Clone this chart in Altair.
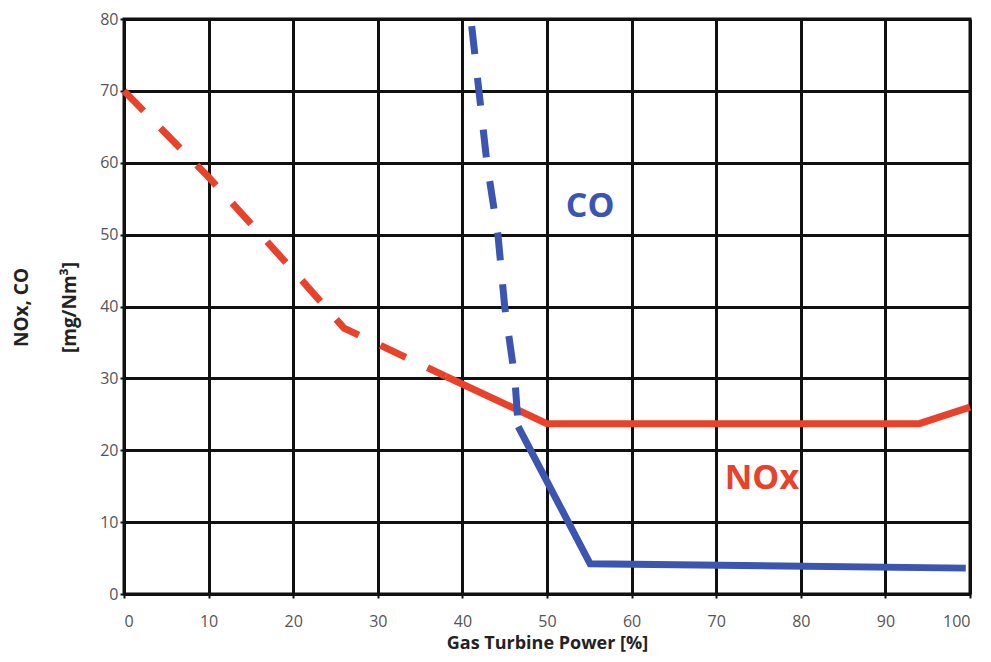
import altair as alt
import pandas as pd

# NOx curve (dashed part at low load, solid part at higher load)
nox_dash_x = [0, 10, 20, 26, 38]
nox_dash_y = [70, 58, 45, 37, 30.3]
nox_solid_x = [38, 50, 94, 100]
nox_solid_y = [30.3, 23.7, 23.7, 26.0]

# CO curve
co_dash_x = [41.1, 42.9, 44.2, 45.0, 46.2, 46.6]
co_dash_y = [79, 60, 50, 40, 30, 23.3]
co_solid_x = [46.6, 55.1, 99.5]
co_solid_y = [23.3, 4.2, 3.6]

label_text = ["CO", "NOx"]
label_x = [55.1, 75.4]
label_y = [53.8, 16.0]

x_ticks = list(range(0, 101, 10))
y_ticks = list(range(0, 81, 10))

RED = "#e8422b"
BLUE = "#3b55b0"

x_scale = alt.Scale(domain=[0, 100], nice=False, zero=False)
y_scale = alt.Scale(domain=[0, 80], nice=False)

x_axis = alt.Axis(
    values=x_ticks, title="Gas Turbine Power [%]", grid=True,
    gridColor="#111111", gridWidth=3, gridOpacity=1,
    domainColor="#111111", domainWidth=3,
    tickColor="#111111", tickSize=4, tickWidth=2,
    labelFont="Open Sans", labelFontSize=16, labelColor="#555555",
    labelPadding=15,
    titleFont="Open Sans", titleFontSize=18, titleFontWeight="bold",
    titleColor="#222222", titlePadding=5,
)
y_axis = alt.Axis(
    values=y_ticks, title=["NOx, CO", "[mg/Nm³]"], grid=True,
    gridColor="#111111", gridWidth=3, gridOpacity=1,
    domainColor="#111111", domainWidth=3,
    tickColor="#111111", tickSize=4, tickWidth=2,
    labelFont="Open Sans", labelFontSize=16, labelColor="#555555",
    labelPadding=2,
    titleFont="Open Sans", titleFontSize=19, titleFontWeight="bold",
    titleColor="#222222", titleAngle=270, titleX=-103, titleY=288,
    titleAlign="center", titleBaseline="middle", titleLineHeight=48,
)


def seg(xs, ys):
    return pd.DataFrame({"x": xs, "y": ys})


def line(df, color, dash):
    kw = dict(color=color, strokeWidth=7, clip=False)
    if dash:
        kw["strokeDash"] = [28, 24]
    return alt.Chart(df).mark_line(**kw).encode(
        x=alt.X("x:Q", scale=x_scale, axis=x_axis),
        y=alt.Y("y:Q", scale=y_scale, axis=y_axis),
    )


labels = pd.DataFrame({"text": label_text, "x": label_x, "y": label_y})
text = alt.Chart(labels).mark_text(
    font="Open Sans", fontSize=34, fontWeight="bold",
    align="center", baseline="middle",
).encode(
    x=alt.X("x:Q", scale=x_scale, axis=x_axis),
    y=alt.Y("y:Q", scale=y_scale, axis=y_axis),
    text="text:N",
    color=alt.Color("text:N", scale=alt.Scale(domain=["CO", "NOx"], range=[BLUE, RED]), legend=None),
)

chart = alt.layer(
    line(seg(nox_dash_x, nox_dash_y), RED, True),
    line(seg(nox_solid_x, nox_solid_y), RED, False),
    line(seg(co_dash_x, co_dash_y), BLUE, True),
    line(seg(co_solid_x, co_solid_y), BLUE, False),
    text,
).properties(
    width=846, height=575,
    padding={"left": 116, "top": 11, "right": 13, "bottom": 60},
    autosize=alt.AutoSizeParams(type="none"),
    background="white",
).configure_view(stroke="#111111", strokeWidth=3)

chart.save("out.html", embed_options={"renderer": "svg", "actions": False})
